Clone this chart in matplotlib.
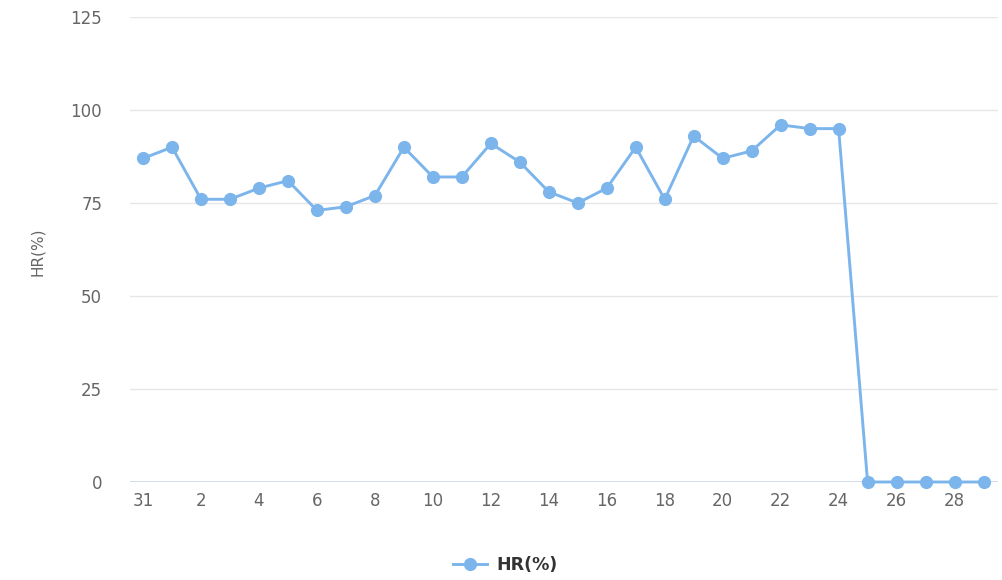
# -*- coding: utf-8 -*-
"""
Daily HR(%) line chart.
"""

import numpy as np
import matplotlib.pyplot as plt
from matplotlib.lines import Line2D


# day of month for each sample
DAYS = ['31'] + [str(iii) for iii in range(1, 30)]

# HR values in percent
HR = [87, 90, 76, 76, 79, 81, 73, 74, 77, 90,
      82, 82, 91, 86, 78, 75, 79, 90, 76, 93,
      87, 89, 96, 95, 95, 0, 0, 0, 0, 0]

# y ticks
YTICKS = [0, 25, 50, 75, 100, 125]

# colours
LINE = '#7cb5ec'
GRID = '#e6e6e6'
AXIS = '#ccd6eb'
LABEL = '#666666'


def plot_hr():
    # figure sized to 1002 x 580 pixels
    fig = plt.figure(figsize=(10.02, 5.80), dpi=100)
    ax = fig.add_axes([130 / 1002, 98 / 580, 868 / 1002, 465 / 580])
    xpos = np.arange(len(DAYS))
    # horizontal grid
    for yyy in YTICKS[1:]:
        ax.axhline(yyy, color=GRID, lw=1, zorder=0)
    ax.axhline(0, color=AXIS, lw=1.2, zorder=1)
    # data
    ax.plot(xpos, HR, color=LINE, lw=2.1, marker='o', ms=9.5,
            markeredgewidth=0, zorder=3, clip_on=False)
    # axes limits
    ax.set_xlim(-0.45, len(DAYS) - 0.5)
    ax.set_ylim(0, 125)
    # ticks
    ax.set_yticks(YTICKS)
    ax.set_yticklabels([str(yyy) for yyy in YTICKS])
    ax.set_xticks(xpos[::2])
    ax.set_xticklabels(DAYS[::2])
    ax.tick_params(axis='both', length=0, labelsize=12, labelcolor=LABEL)
    ax.tick_params(axis='y', pad=20)
    ax.tick_params(axis='x', pad=7)
    for spine in ax.spines.values():
        spine.set_visible(False)
    # axis title
    fig.text(38 / 1002, 1 - 252 / 580, 'HR(%)', rotation=90, ha='center',
             va='center', fontsize=11, color=LABEL)
    # legend
    handle = Line2D([], [], color=LINE, lw=2.1, marker='o', ms=9.5,
                    markeredgewidth=0)
    fig.legend([handle], ['HR(%)'], loc='center',
               bbox_to_anchor=(505 / 1002, 1 - 565 / 580), frameon=False,
               prop={'size': 12.5, 'weight': 'bold'}, labelcolor='#333333',
               handlelength=2.0, handletextpad=0.5)
    fig.savefig('out.png', dpi=100)


if __name__ == '__main__':
    plot_hr()
